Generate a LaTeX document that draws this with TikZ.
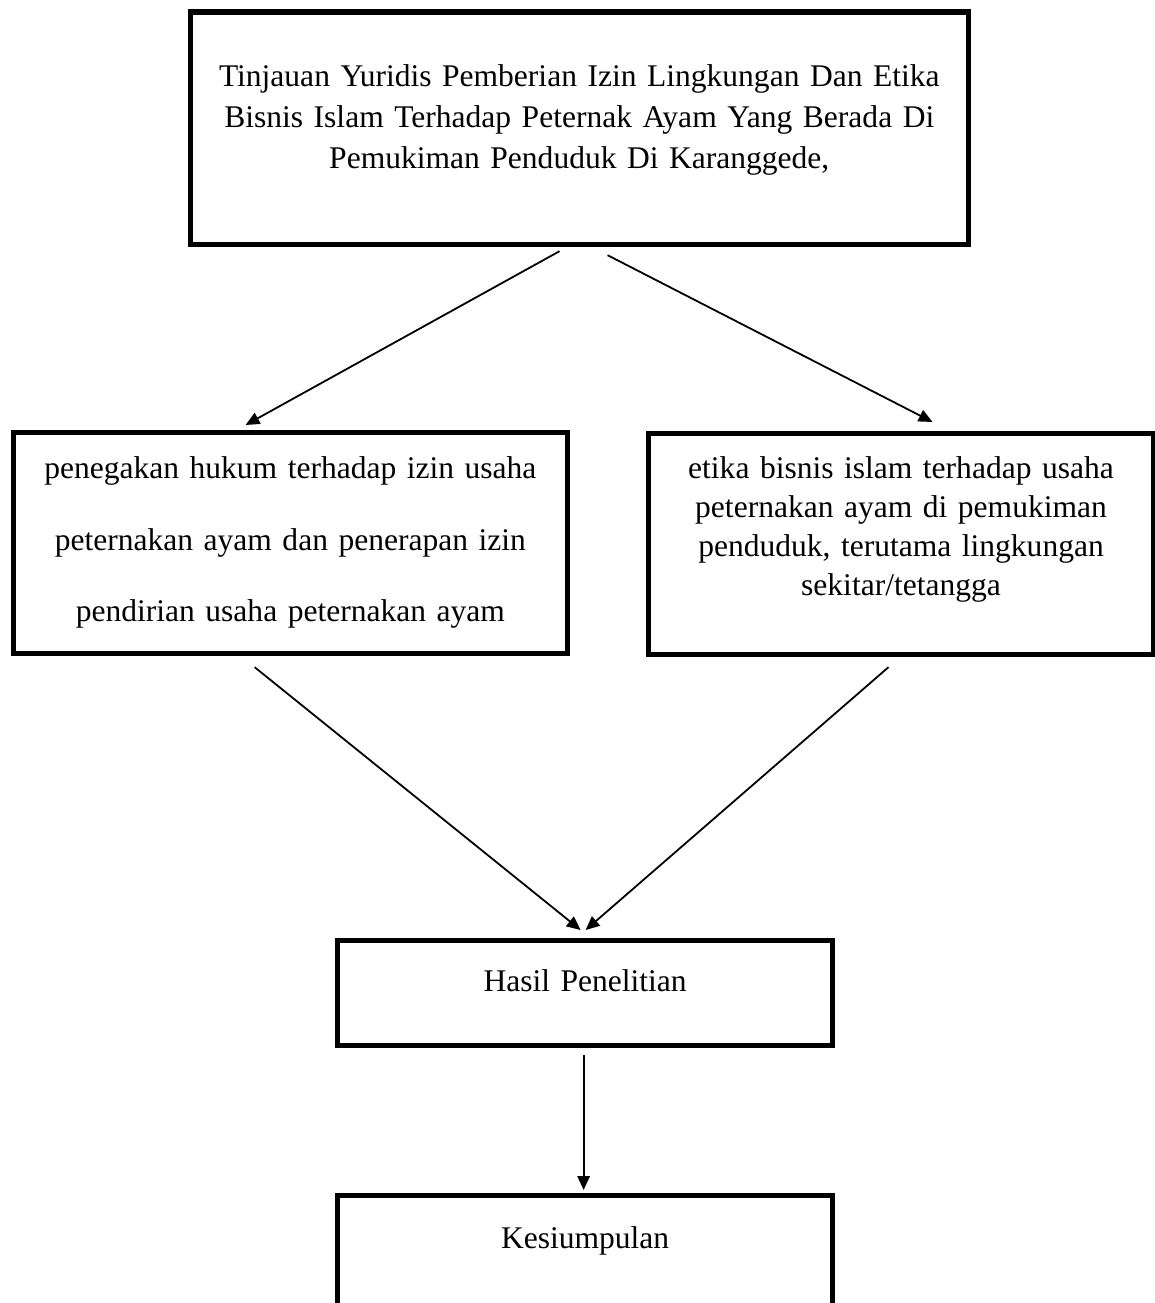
\documentclass[tikz,border=0pt]{standalone}
\usepackage{fontspec}
\setmainfont{Liberation Serif}
\usetikzlibrary{arrows.meta, calc}

\begin{document}
\begin{tikzpicture}[
    x=0.39pt, y=-0.39pt,
    box/.style={rectangle, draw=black, line width=2pt, inner sep=0pt, align=center,
                font=\fontsize{12.3}{16}\selectfont},
    arrow/.style={-{Triangle[length=5.4pt, width=4.8pt]}, line width=0.7pt, black}
  ]
    \useasboundingbox (0,0) rectangle (1154,1303);
    \node[box, anchor=north west, text width=303.6pt, text height=29.1pt, text depth=61.4pt] (judul) at (187.5,9.5)
      {Tinjauan Yuridis Pemberian Izin Lingkungan Dan Etika\\Bisnis Islam Terhadap Peternak Ayam Yang Berada Di\\Pemukiman Penduduk Di Karanggede,};
    \node[box, anchor=north west, text width=215.9pt, text height=17.9pt, text depth=68.3pt,
          font=\fontsize{12.3}{27.9}\selectfont] (hukum) at (11,430)
      {penegakan hukum terhadap izin usaha\\peternakan ayam dan penerapan izin\\pendirian usaha peternakan ayam};
    \node[box, anchor=north west, text width=197.3pt, text height=17.6pt, text depth=68.6pt,
          font=\fontsize{12.3}{15.2}\selectfont] (etika) at (645.5,431)
      {etika bisnis islam terhadap usaha\\peternakan ayam di pemukiman\\penduduk, terutama lingkungan\\sekitar/tetangga};
    \node[box, anchor=north west, text width=193.1pt, text height=19.9pt, text depth=21.1pt] (hasil) at (335,938)
      {Hasil Penelitian};
    \node[box, anchor=north west, text width=193.1pt, text height=20.7pt, text depth=60pt] (kesimpulan) at (335,1193)
      {Kesiumpulan};
    \draw[arrow] ($(judul.south)+(-19.75,4.5)$) -- ($(hukum.north)+(-44.75,-5)$);
    \draw[arrow] ($(judul.south)+(28.25,8.5)$) -- ($(etika.north)+(31.5,-9)$);
    \draw[arrow] ($(hukum.south)+(-35.75,11)$) -- ($(hasil.north)+(-4.5,-8)$);
    \draw[arrow] ($(etika.south)+(-12.5,10)$) -- ($(hasil.north)+(0.5,-8)$);
    \draw[arrow] ($(hasil.south)+(-1.5,7)$) -- ($(kesimpulan.north)+(-1.5,-3)$);
  \end{tikzpicture}
\end{document}
